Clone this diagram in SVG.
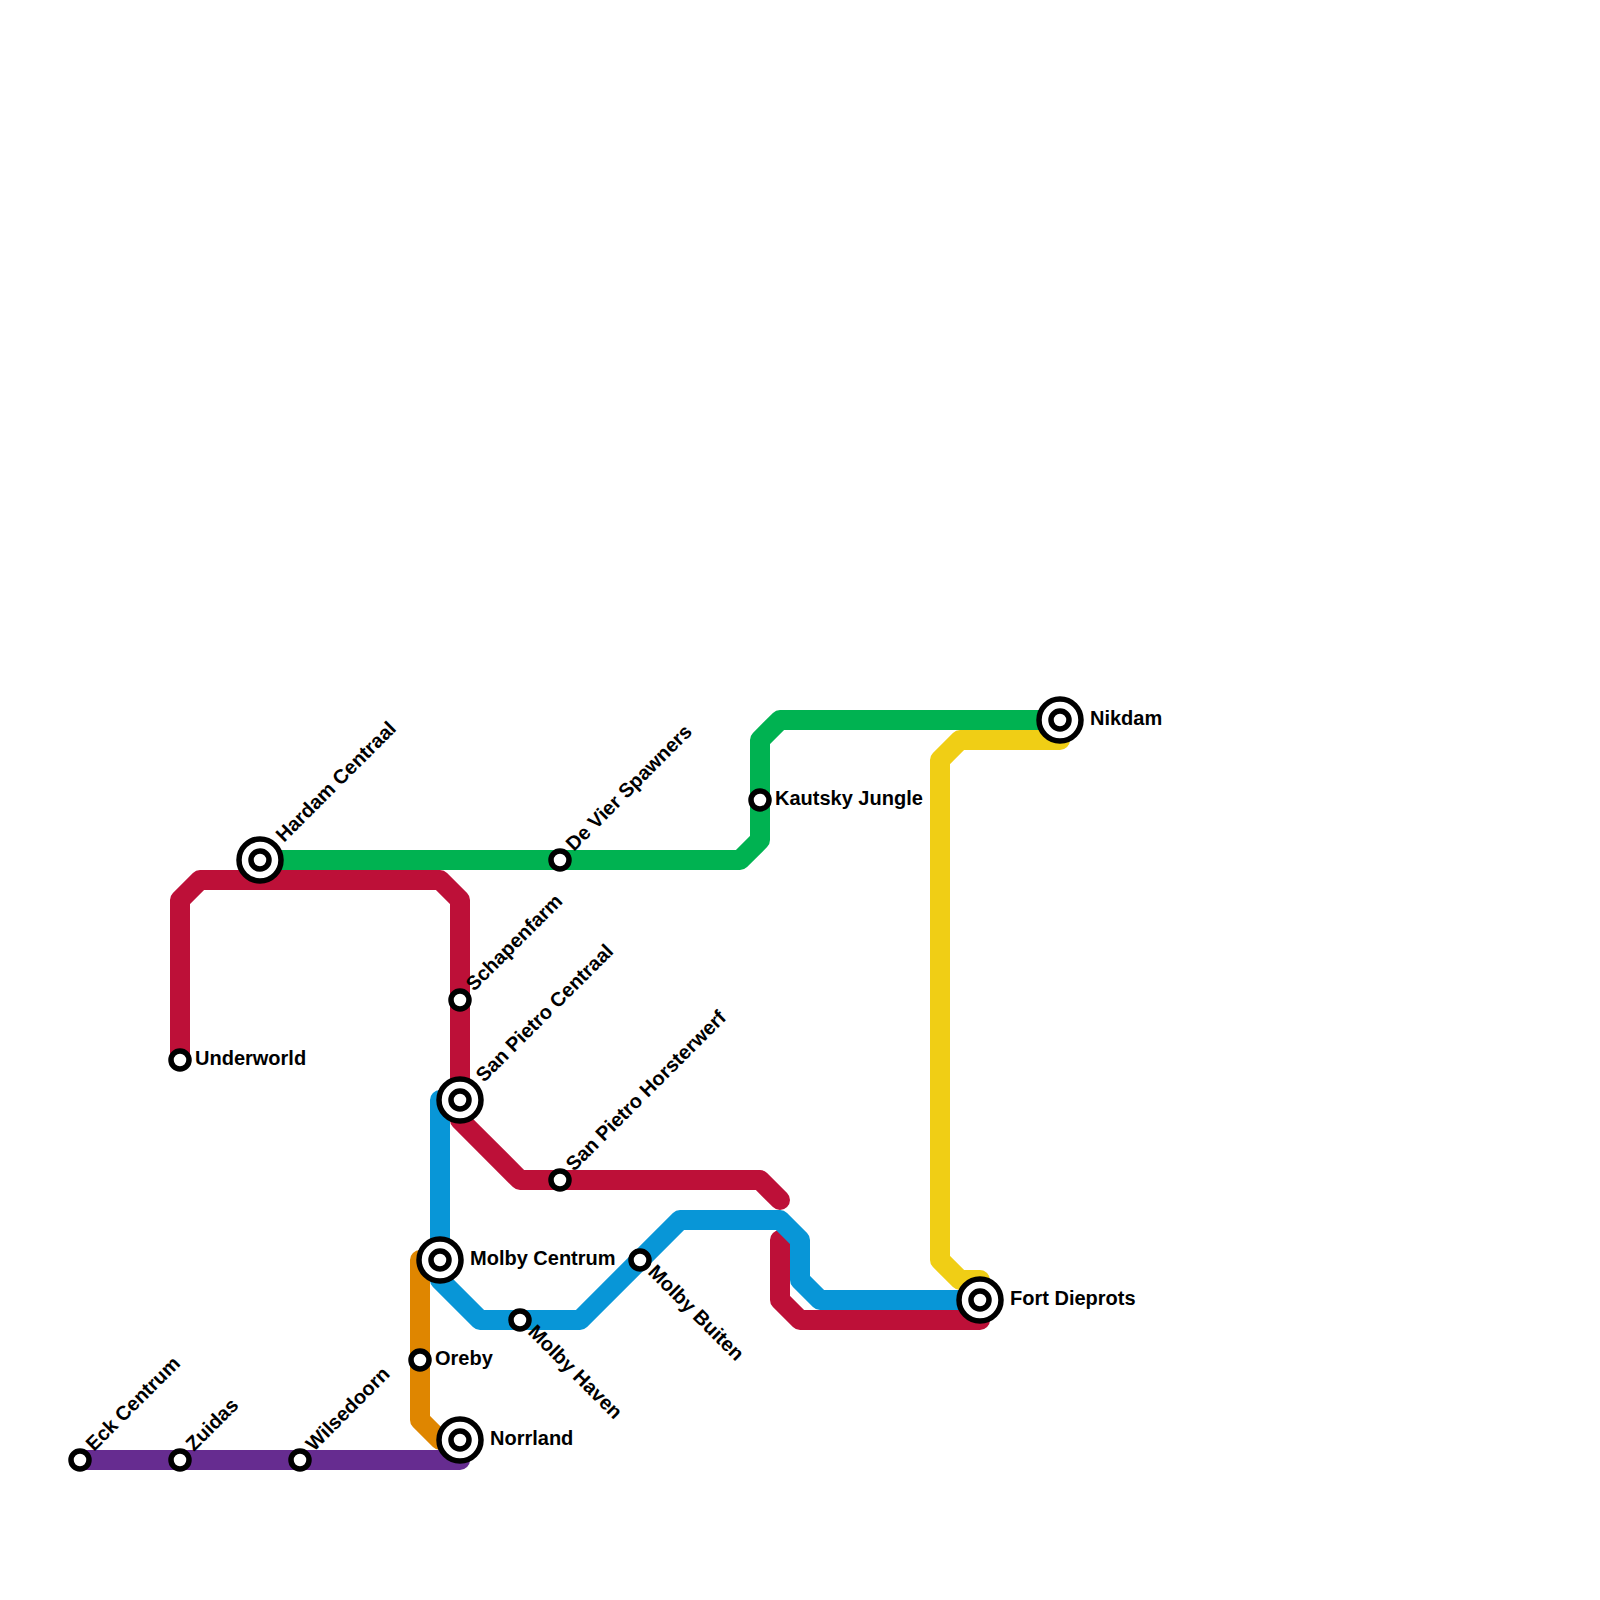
<svg xmlns="http://www.w3.org/2000/svg" width="1600" height="1600" viewBox="0 0 1600 1600">
<style>
.l{fill:none;stroke-width:20;stroke-linecap:round;stroke-linejoin:round}
.s{fill:#fff;stroke:#000;stroke-width:5.5}
.o{fill:#fff;stroke:#000;stroke-width:5.5}
text{font-family:"Liberation Sans",Arial,sans-serif;font-weight:bold;font-size:20px;fill:#000}
</style>
<rect width="1600" height="1600" fill="#fff"/>
<g id="connectors">
<path class="l" stroke="#df8600" d="M420 1260V1420L440 1440H460"/>
<path class="l" stroke="#662c90" d="M80 1460H460"/>
<path class="l" stroke="#f0ce15" d="M1060 740H960L940 760V1260L960 1280H980"/>
<path class="l" stroke="#00b251" d="M260 860H740L760 840V740L780 720H1060"/>
<path class="l" stroke="#bd1038" d="M180 1060V900L200 880H440L460 900V1100"/>
<path class="l" stroke="#bd1038" d="M460 1120L520 1180H760L780 1200"/>
<path class="l" stroke="#bd1038" d="M780 1240V1300L800 1320H980"/>
<path class="l" stroke="#0896d7" d="M440 1100V1280L480 1320H580L680 1220H780L800 1240V1280L820 1300H980"/>
</g>
<g id="hardam-centraal"><circle class="o" cx="260" cy="860" r="21"/><circle class="s" cx="260" cy="860" r="9"/><text transform="translate(284 843) rotate(-45)">Hardam Centraal</text></g>
<g id="de-vier-spawners"><circle class="s" cx="560" cy="860" r="9"/><text transform="translate(574 852) rotate(-45)">De Vier Spawners</text></g>
<g id="kautsky-jungle"><circle class="s" cx="760" cy="800" r="9"/><text x="775" y="805">Kautsky Jungle</text></g>
<g id="nikdam"><circle class="o" cx="1060" cy="720" r="21"/><circle class="s" cx="1060" cy="720" r="9"/><text x="1090" y="725">Nikdam</text></g>
<g id="underworld"><circle class="s" cx="180" cy="1060" r="9"/><text x="195" y="1065">Underworld</text></g>
<g id="schapenfarm"><circle class="s" cx="460" cy="1000" r="9"/><text transform="translate(474 992) rotate(-45)">Schapenfarm</text></g>
<g id="san-pietro-centraal"><circle class="o" cx="460" cy="1100" r="21"/><circle class="s" cx="460" cy="1100" r="9"/><text transform="translate(484 1083) rotate(-45)">San Pietro Centraal</text></g>
<g id="san-pietro-horsterwerf"><circle class="s" cx="560" cy="1180" r="9"/><text transform="translate(574 1172) rotate(-45)">San Pietro Horsterwerf</text></g>
<g id="molby-centrum"><circle class="o" cx="440" cy="1260" r="21"/><circle class="s" cx="440" cy="1260" r="9"/><text x="470" y="1265">Molby Centrum</text></g>
<g id="molby-buiten"><circle class="s" cx="640" cy="1260" r="9"/><text transform="translate(647 1273) rotate(45)">Molby Buiten</text></g>
<g id="molby-haven"><circle class="s" cx="520" cy="1320" r="9"/><text transform="translate(527 1333) rotate(45)">Molby Haven</text></g>
<g id="oreby"><circle class="s" cx="420" cy="1360" r="9"/><text x="435" y="1365">Oreby</text></g>
<g id="norrland"><circle class="o" cx="460" cy="1440" r="21"/><circle class="s" cx="460" cy="1440" r="9"/><text x="490" y="1445">Norrland</text></g>
<g id="fort-dieprots"><circle class="o" cx="980" cy="1300" r="21"/><circle class="s" cx="980" cy="1300" r="9"/><text x="1010" y="1305">Fort Dieprots</text></g>
<g id="eck-centrum"><circle class="s" cx="80" cy="1460" r="9"/><text transform="translate(94 1452) rotate(-45)">Eck Centrum</text></g>
<g id="zuidas"><circle class="s" cx="180" cy="1460" r="9"/><text transform="translate(194 1452) rotate(-45)">Zuidas</text></g>
<g id="wilsedoorn"><circle class="s" cx="300" cy="1460" r="9"/><text transform="translate(314 1452) rotate(-45)">Wilsedoorn</text></g>
</svg>
